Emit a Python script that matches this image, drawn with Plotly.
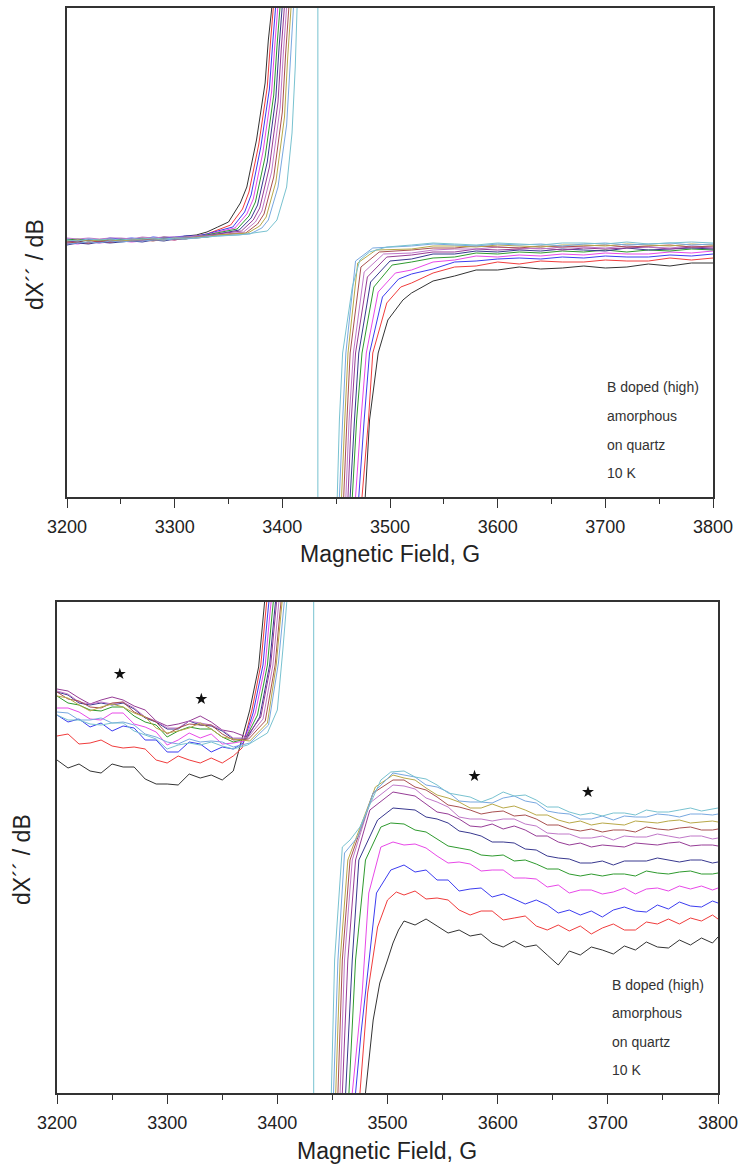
import plotly.graph_objects as go

W, H = 739, 1169
FONT = "Liberation Sans, Arial, sans-serif"

# ---------------- data -----------------
NAMES = ["black", "red", "blue", "magenta", "green", "navy", "purple",
         "violet", "wine", "olive", "lightblue", "cyan"]
COLORS = ["#333333", "#f03c3c", "#3c3cf0", "#e848e8", "#2e9a2e", "#38388f",
          "#963c96", "#c078c8", "#a85050", "#b8a848", "#78a8e0", "#78c2d0"]

CENTER_FIELD = 3433          # zero crossing of the strong central line
CENTER_PEAK = 9000           # far off-scale peak of the central line

X_TICKS = [3200, 3300, 3400, 3500, 3600, 3700, 3800]
LABEL_LINES = ["B doped (high)", "amorphous", "on quartz", "10 K"]

# ---- top panel (full view) ----
TOP_LEFT_FIELD = [3200, 3210, 3220, 3230, 3240, 3250, 3260, 3270, 3280,
                  3290, 3300, 3310, 3320, 3330, 3340]
TOP_LEFT_VALUES = [
    [256, 255, 257, 256, 258, 257, 258, 259, 258, 260, 259, 261, 262, 265, 270],
    [253, 255, 254, 256, 255, 257, 256, 257, 258, 257, 259, 260, 261, 263, 267],
    [258, 257, 258, 257, 259, 258, 259, 258, 260, 259, 260, 261, 261, 263, 266],
    [254, 253, 255, 254, 255, 256, 255, 256, 257, 258, 257, 259, 260, 262, 265],
    [257, 258, 256, 257, 256, 258, 257, 258, 257, 259, 258, 260, 260, 262, 264],
    [252, 254, 253, 255, 254, 255, 256, 255, 257, 256, 258, 258, 260, 261, 263],
    [255, 256, 257, 255, 257, 256, 258, 257, 258, 258, 259, 259, 260, 261, 263],
    [259, 258, 259, 258, 259, 259, 258, 260, 259, 260, 260, 260, 261, 261, 262],
    [254, 255, 254, 256, 255, 256, 256, 257, 256, 258, 257, 259, 259, 260, 262],
    [256, 257, 256, 257, 257, 256, 257, 258, 258, 257, 259, 258, 260, 260, 262],
    [253, 254, 255, 254, 256, 255, 256, 256, 257, 257, 258, 258, 259, 260, 261],
    [257, 256, 258, 257, 258, 257, 258, 258, 259, 258, 259, 259, 259, 260, 261],
]
TOP_RISE_FIELD = [
    [3350, 3361, 3367, 3376, 3384, 3387, 3390, 3392, 3395],
    [3352, 3363, 3369, 3378, 3386, 3389, 3392, 3394, 3397],
    [3354, 3365, 3371, 3380, 3388, 3391, 3394, 3396, 3399],
    [3356, 3367, 3373, 3382, 3390, 3393, 3396, 3398, 3401],
    [3358, 3369, 3375, 3384, 3392, 3395, 3398, 3400, 3403],
    [3360, 3371, 3377, 3386, 3394, 3397, 3400, 3402, 3405],
    [3362, 3373, 3379, 3388, 3396, 3399, 3402, 3404, 3407],
    [3364, 3375, 3381, 3390, 3398, 3401, 3404, 3406, 3409],
    [3366, 3377, 3383, 3392, 3400, 3403, 3406, 3408, 3411],
    [3368, 3379, 3385, 3394, 3402, 3405, 3408, 3410, 3413],
    [3370, 3381, 3387, 3396, 3404, 3407, 3410, 3412, 3415],
    [3360, 3376, 3386, 3395, 3404, 3409, 3412, 3414, 3418],
]
TOP_RISE_VALUES = [
    [275, 294, 310, 357, 414, 457, 487, 520, 800],
    [272, 288, 305, 352, 410, 455, 487, 520, 800],
    [270, 285, 302, 350, 408, 453, 487, 520, 800],
    [269, 283, 298, 345, 405, 452, 487, 520, 800],
    [268, 281, 295, 340, 402, 450, 487, 520, 800],
    [267, 279, 292, 335, 400, 450, 487, 520, 800],
    [266, 277, 289, 330, 395, 448, 487, 520, 800],
    [265, 275, 286, 325, 390, 445, 487, 520, 800],
    [264, 273, 283, 320, 385, 442, 487, 520, 800],
    [264, 271, 280, 315, 380, 440, 487, 520, 800],
    [263, 269, 277, 310, 372, 435, 487, 520, 800],
    [262, 264, 266, 277, 310, 364, 430, 500, 800],
]
TOP_FALL_FIELD = [
    [3473, 3477, 3481, 3489, 3498, 3512],
    [3470, 3474, 3480, 3484, 3497, 3510],
    [3467, 3471, 3476, 3481, 3493, 3508],
    [3464, 3468, 3473, 3478, 3489, 3505],
    [3461, 3465, 3469, 3474, 3485, 3502],
    [3459, 3463, 3467, 3471, 3482, 3500],
    [3457, 3461, 3464, 3468, 3479, 3497],
    [3455, 3459, 3462, 3466, 3476, 3494],
    [3453, 3457, 3460, 3463, 3473, 3490],
    [3451, 3455, 3458, 3461, 3470, 3487],
    [3449, 3453, 3456, 3459, 3468, 3484],
    [3447, 3451, 3453, 3456, 3465, 3472, 3481, 3497],
]
TOP_FALL_VALUES = [
    [-300, 0, 77, 144, 177, 197],
    [-300, 0, 77, 144, 194, 210],
    [-300, 0, 77, 144, 200, 218],
    [-300, 0, 77, 144, 205, 224],
    [-300, 0, 77, 144, 210, 232],
    [-300, 0, 77, 144, 215, 236],
    [-300, 0, 77, 144, 220, 240],
    [-300, 0, 77, 144, 225, 243],
    [-300, 0, 77, 144, 230, 245],
    [-300, 0, 77, 144, 234, 247],
    [-300, 0, 77, 144, 236, 249],
    [-300, 0, 77, 144, 210, 237, 245, 250],
]
TOP_RIGHT_FIELD = [3520, 3540, 3560, 3580, 3600, 3620, 3640, 3660, 3680,
                   3700, 3720, 3740, 3760, 3780, 3800]
TOP_RIGHT_VALUES = [
    [204, 216, 221, 227, 227, 230, 228, 229, 231, 229, 230, 233, 231, 234, 234],
    [214, 224, 230, 231, 235, 233, 236, 235, 235, 237, 236, 236, 239, 237, 239],
    [223, 228, 235, 236, 238, 239, 238, 240, 239, 241, 240, 240, 242, 241, 243],
    [227, 235, 237, 241, 240, 242, 241, 243, 242, 244, 243, 243, 245, 244, 246],
    [235, 239, 240, 244, 243, 245, 244, 246, 245, 247, 245, 247, 246, 248, 247],
    [238, 243, 243, 246, 245, 247, 246, 248, 247, 246, 249, 247, 248, 249, 248],
    [242, 245, 245, 248, 247, 248, 249, 247, 249, 248, 249, 250, 248, 250, 249],
    [244, 247, 248, 248, 250, 249, 248, 250, 250, 249, 251, 250, 249, 251, 250],
    [247, 249, 249, 251, 250, 249, 251, 250, 251, 252, 250, 251, 252, 250, 251],
    [248, 251, 251, 250, 252, 251, 250, 252, 252, 251, 253, 252, 251, 253, 252],
    [251, 253, 252, 251, 253, 252, 253, 251, 253, 254, 252, 253, 254, 252, 253],
    [252, 254, 253, 252, 254, 253, 252, 254, 254, 253, 255, 253, 254, 255, 254],
]

# ---- bottom panel (expanded view) ----
BOT_LEFT_FIELD = [3200, 3210, 3220, 3230, 3240, 3250, 3260, 3270, 3280,
                  3290, 3300, 3310, 3320, 3330, 3340, 3350, 3360]
BOT_LEFT_VALUES = [
    [333, 325, 329, 322, 320, 329, 326, 326, 314, 309, 309, 308, 319, 315, 318, 313, 322],
    [357, 359, 349, 350, 353, 347, 345, 346, 344, 333, 330, 337, 333, 330, 335, 330, 337],
    [378, 371, 374, 366, 370, 362, 367, 365, 353, 353, 341, 341, 351, 349, 341, 346, 344],
    [385, 385, 381, 374, 373, 380, 380, 369, 366, 361, 348, 353, 360, 355, 359, 349, 350],
    [397, 390, 388, 383, 382, 386, 386, 377, 371, 368, 356, 362, 366, 364, 364, 356, 351],
    [401, 398, 390, 388, 390, 388, 390, 384, 375, 371, 364, 364, 372, 368, 367, 362, 354],
    [404, 402, 395, 389, 393, 396, 393, 387, 383, 372, 367, 369, 372, 377, 371, 363, 361],
    [402, 399, 391, 389, 391, 389, 391, 385, 376, 372, 365, 365, 372, 370, 368, 363, 355],
    [401, 394, 392, 386, 385, 390, 391, 381, 376, 371, 359, 365, 369, 368, 368, 359, 353],
    [397, 395, 388, 382, 386, 389, 386, 380, 376, 365, 360, 362, 365, 370, 364, 356, 354],
    [381, 380, 373, 373, 375, 370, 371, 368, 359, 356, 351, 349, 354, 351, 352, 351, 346],
    [378, 373, 373, 369, 368, 370, 370, 362, 358, 354, 344, 348, 350, 348, 351, 347, 344],
]
BOT_RISE_FIELD = [
    [3366, 3375, 3383, 3387, 3390, 3395],
    [3368, 3377, 3385, 3389, 3392, 3397],
    [3369, 3378, 3387, 3391, 3394, 3399],
    [3370, 3380, 3389, 3393, 3396, 3401],
    [3371, 3382, 3391, 3395, 3398, 3403],
    [3372, 3384, 3393, 3397, 3400, 3405],
    [3372, 3385, 3394, 3398, 3401, 3406],
    [3373, 3387, 3396, 3400, 3403, 3408],
    [3374, 3389, 3398, 3402, 3405, 3410],
    [3375, 3391, 3399, 3403, 3406, 3411],
    [3375, 3392, 3401, 3405, 3408, 3413],
    [3373, 3391, 3400, 3405, 3410, 3415],
]
BOT_RISE_VALUES = [
    [346, 383, 426, 476, 510, 700],
    [345, 383, 428, 476, 510, 700],
    [350, 380, 428, 476, 510, 700],
    [352, 380, 428, 476, 510, 700],
    [354, 378, 428, 476, 510, 700],
    [354, 376, 428, 476, 510, 700],
    [356, 376, 428, 476, 510, 700],
    [355, 374, 428, 476, 510, 700],
    [354, 372, 428, 476, 510, 700],
    [352, 370, 428, 476, 510, 700],
    [350, 368, 430, 476, 510, 700],
    [348, 360, 383, 443, 510, 700],
]
BOT_FALL_FIELD = [
    [3476, 3480, 3487, 3493, 3500, 3505, 3510],
    [3471, 3475, 3482, 3491, 3500, 3508],
    [3467, 3471, 3476, 3483, 3490, 3503, 3510],
    [3464, 3468, 3477, 3483, 3494, 3505],
    [3461, 3465, 3471, 3480, 3494, 3503],
    [3458, 3462, 3468, 3474, 3491, 3505],
    [3455, 3459, 3464, 3471, 3484, 3505],
    [3453, 3457, 3461, 3468, 3484, 3505],
    [3451, 3455, 3459, 3466, 3487, 3505],
    [3449, 3453, 3457, 3464, 3489, 3505],
    [3447, 3451, 3455, 3461, 3473, 3487, 3505],
    [3445, 3449, 3452, 3459, 3466, 3475, 3494, 3503],
]
BOT_FALL_VALUES = [
    [-200, 0, 73, 110, 133, 150, 163],
    [-200, 0, 100, 166, 193, 201],
    [-200, 0, 60, 133, 200, 223, 226],
    [-200, 0, 100, 200, 246, 251],
    [-200, 0, 133, 233, 266, 270],
    [-200, 0, 133, 233, 273, 285],
    [-200, 0, 133, 233, 283, 301],
    [-200, 0, 133, 233, 290, 308],
    [-200, 0, 133, 233, 300, 313],
    [-200, 0, 133, 233, 306, 318],
    [-200, 0, 133, 240, 256, 300, 320],
    [-200, 0, 133, 246, 253, 266, 313, 321],
]
BOT_RIGHT_FIELD = [3515, 3525, 3535, 3545, 3555, 3565, 3575, 3585, 3595, 3605,
                   3615, 3625, 3635, 3645, 3655, 3665, 3675, 3685, 3695, 3705,
                   3715, 3725, 3735, 3745, 3755, 3765, 3775, 3785, 3795, 3800]
BOT_RIGHT_VALUES = [
    [172, 168, 174, 167, 160, 163, 157, 159, 150, 146, 152, 146, 148, 138, 128,
     142, 138, 146, 143, 139, 147, 143, 151, 146, 145, 153, 148, 155, 150, 156],
    [198, 202, 194, 195, 193, 183, 178, 182, 182, 173, 175, 177, 167, 163, 168,
     162, 167, 159, 165, 169, 163, 163, 171, 169, 174, 169, 175, 172, 178, 174],
    [228, 221, 223, 213, 213, 202, 204, 205, 196, 199, 194, 189, 193, 188, 180,
     183, 178, 182, 176, 183, 186, 182, 181, 188, 184, 191, 187, 186, 192, 190],
    [248, 249, 245, 237, 230, 231, 229, 222, 223, 223, 215, 215, 214, 206, 208,
     200, 203, 203, 199, 201, 205, 199, 204, 205, 202, 207, 204, 207, 203, 205],
    [269, 263, 261, 254, 247, 245, 243, 238, 237, 238, 232, 233, 229, 224, 224,
     219, 217, 219, 217, 219, 219, 217, 222, 220, 219, 221, 222, 219, 219, 220],
    [284, 283, 276, 274, 270, 262, 260, 257, 251, 251, 250, 244, 243, 237, 235,
     234, 230, 230, 232, 228, 232, 232, 232, 235, 233, 231, 233, 233, 230, 231],
    [299, 297, 289, 281, 279, 274, 267, 266, 269, 264, 267, 263, 257, 257, 251,
     248, 250, 246, 248, 247, 246, 250, 249, 248, 250, 251, 247, 248, 248, 247],
    [307, 304, 295, 291, 286, 276, 274, 274, 272, 274, 274, 269, 267, 260, 259,
     259, 255, 255, 257, 253, 257, 256, 256, 259, 257, 255, 257, 257, 254, 255],
    [313, 306, 303, 296, 288, 286, 283, 279, 281, 282, 277, 278, 274, 268, 268,
     264, 262, 264, 261, 263, 263, 261, 266, 264, 263, 265, 266, 263, 263, 264],
    [315, 313, 305, 298, 295, 291, 285, 285, 289, 285, 287, 283, 278, 278, 273,
     270, 272, 268, 270, 269, 268, 272, 271, 270, 272, 273, 270, 271, 272, 271],
    [318, 316, 308, 306, 301, 292, 291, 291, 290, 295, 297, 292, 290, 282, 280,
     279, 274, 274, 277, 273, 277, 276, 276, 279, 278, 276, 279, 279, 278, 279],
    [322, 316, 314, 308, 300, 298, 296, 291, 295, 301, 297, 298, 293, 286, 286,
     281, 278, 280, 277, 280, 280, 278, 283, 281, 281, 283, 285, 282, 284, 285],
]
STAR_FIELD = [3257, 3331, 3579, 3682]
STAR_VALUE = [419, 394, 317, 301]

TOP_Y_RANGE = [0, 489]
BOT_Y_RANGE = [0, 491]

# ---------------- layout geometry (pixels) ----------------
TOP_BOX = dict(x0=67, x1=713, y0=8, y1=497)
BOT_BOX = dict(x0=57, x1=718, y0=602, y1=1093)


def xdom(b):
    return [b["x0"] / W, b["x1"] / W]


def ydom(b):
    return [1 - b["y1"] / H, 1 - b["y0"] / H]


def py(p):
    return 1 - p / H


fig = go.Figure()
LAST = len(NAMES) - 1


def add_panel(lf, lv, rf, rv, ff, fv, gf, gv, xa, ya):
    for i in range(len(NAMES)):
        # the off-scale central crossing is drawn by the top-most trace only
        if i == LAST:
            cx, cy = [CENTER_FIELD, CENTER_FIELD], [CENTER_PEAK, -CENTER_PEAK]
        else:
            cx, cy = [None], [None]
        xs = list(lf) + list(rf[i]) + cx + list(ff[i]) + list(gf)
        ys = list(lv[i]) + list(rv[i]) + cy + list(fv[i]) + list(gv[i])
        fig.add_trace(go.Scatter(x=xs, y=ys, mode="lines", name=NAMES[i],
                                 line=dict(color=COLORS[i], width=1),
                                 xaxis=xa, yaxis=ya, showlegend=False,
                                 connectgaps=False, hoverinfo="skip"))


add_panel(TOP_LEFT_FIELD, TOP_LEFT_VALUES, TOP_RISE_FIELD, TOP_RISE_VALUES,
          TOP_FALL_FIELD, TOP_FALL_VALUES, TOP_RIGHT_FIELD, TOP_RIGHT_VALUES,
          "x", "y")
add_panel(BOT_LEFT_FIELD, BOT_LEFT_VALUES, BOT_RISE_FIELD, BOT_RISE_VALUES,
          BOT_FALL_FIELD, BOT_FALL_VALUES, BOT_RIGHT_FIELD, BOT_RIGHT_VALUES,
          "x2", "y2")

fig.add_trace(go.Scatter(x=STAR_FIELD, y=STAR_VALUE, mode="markers",
                         marker=dict(symbol="star", size=9, color="#111111"),
                         xaxis="x2", yaxis="y2", showlegend=False,
                         hoverinfo="skip"))

xcommon = dict(range=[3200, 3800], tickvals=X_TICKS, ticks="outside",
               ticklen=9, tickwidth=1.3, tickcolor="#333333",
               minor=dict(dtick=50, ticks="outside", ticklen=5,
                          tickwidth=1.3, tickcolor="#333333"),
               showline=True, linecolor="#333333", linewidth=1.5,
               mirror=True, showgrid=False, zeroline=False, automargin=False,
               tickfont=dict(family=FONT, size=18, color="#222222"),
               ticklabelstandoff=4)
ycommon = dict(showticklabels=False, ticks="", showline=True,
               linecolor="#333333", linewidth=1.5, mirror=True,
               showgrid=False, zeroline=False, automargin=False)

fig.update_layout(
    width=W, height=H, autosize=False,
    margin=dict(l=0, r=0, t=0, b=0, pad=0),
    paper_bgcolor="white", plot_bgcolor="white",
    xaxis=dict(domain=xdom(TOP_BOX), anchor="y", **xcommon),
    yaxis=dict(domain=ydom(TOP_BOX), anchor="x", range=TOP_Y_RANGE, **ycommon),
    xaxis2=dict(domain=xdom(BOT_BOX), anchor="y2", **xcommon),
    yaxis2=dict(domain=ydom(BOT_BOX), anchor="x2", range=BOT_Y_RANGE, **ycommon),
)

ann = []
# axis titles
for cx, cy in [(390, 554), (387, 1151)]:
    ann.append(dict(text="Magnetic Field, G", x=cx / W, y=py(cy),
                    xref="paper", yref="paper", showarrow=False,
                    xanchor="center", yanchor="middle",
                    font=dict(family=FONT, size=23, color="#222222")))
for cx, cy in [(35, 265), (22, 860)]:
    ann.append(dict(text="dX\u00b4\u00b4 / dB", x=cx / W, y=py(cy),
                    xref="paper", yref="paper", showarrow=False,
                    textangle=-90, xanchor="center", yanchor="middle",
                    font=dict(family=FONT, size=23, color="#222222")))
# sample label
for lx, lys in [(605, [387, 416, 445, 473]), (610, [985, 1013, 1042, 1070])]:
    for t, ly in zip(LABEL_LINES, lys):
        ann.append(dict(text=t, x=lx / W, y=py(ly), xref="paper", yref="paper",
                        showarrow=False, xanchor="left", yanchor="middle",
                        font=dict(family=FONT, size=14, color="#333333")))
fig.update_layout(annotations=ann)

fig.write_html(
    "out.html",
    config={"responsive": False, "displayModeBar": False},
    post_script="document.body.style.margin='0';document.body.style.padding='0';"
                "document.documentElement.style.overflow='hidden';",
)
